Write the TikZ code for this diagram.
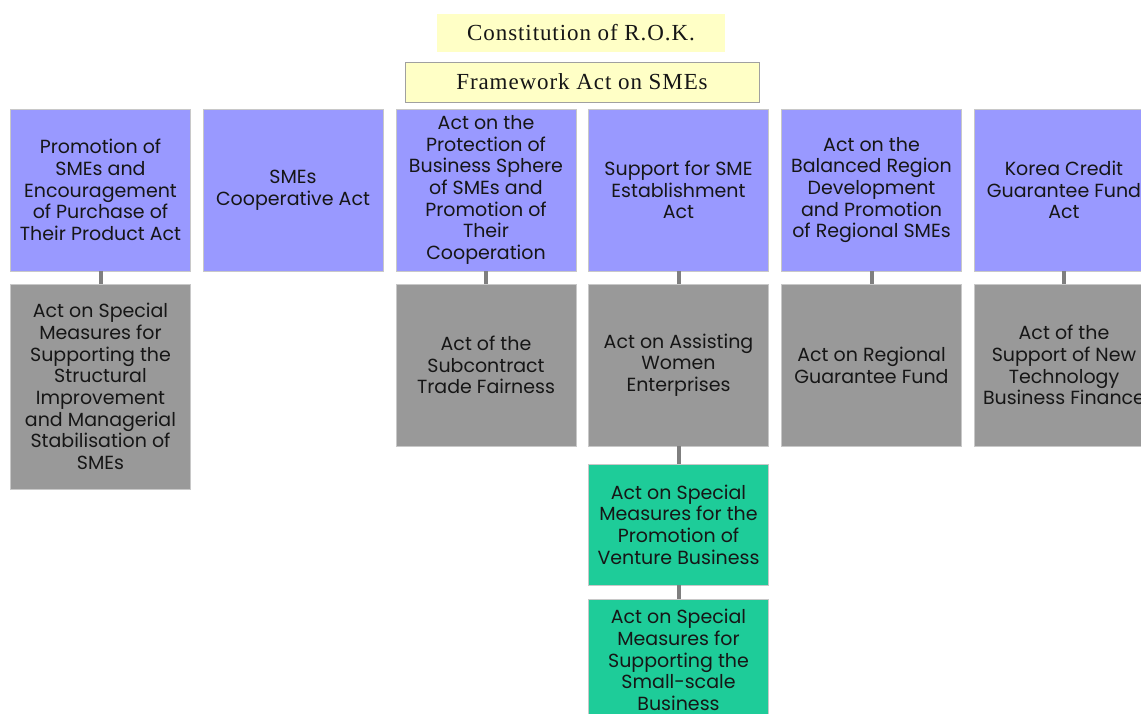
\documentclass[tikz,border=0pt]{standalone}
\usepackage{fontspec}
\setmainfont{Poppins}
\newfontfamily\titlefont[LetterSpace=4]{Liberation Serif}
\definecolor{lawblue}{HTML}{9999FF}
\definecolor{lawgray}{HTML}{999999}
\definecolor{lawgreen}{HTML}{1ECC99}
\definecolor{lawyellow}{HTML}{FFFFC6}
\definecolor{lawtext}{HTML}{161616}
\definecolor{linkgray}{HTML}{7F7F7F}
\definecolor{edgegray}{HTML}{C8C8C8}
\tikzset{
  lawbox/.style={draw=edgegray, line width=0.8pt, minimum width=180pt, inner sep=0pt,
    align=center, text=lawtext, font=\fontsize{19}{21.7}\selectfont},
  mainlaw/.style={lawbox, fill=lawblue, minimum height=162pt},
  sublaw/.style={lawbox, fill=lawgray},
  venture/.style={lawbox, fill=lawgreen, minimum height=121pt},
  toplaw/.style={fill=lawyellow, text=lawtext, inner sep=0pt,
    font=\titlefont\fontsize{23}{26}\selectfont},
  link/.style={draw=linkgray, line width=4pt}
}
\begin{document}
\begin{tikzpicture}[x=1pt,y=-1pt]
\clip (0,0) rectangle (1141,713);
\fill[white] (0,0) rectangle (1141,713);

% constitution and framework act
\node[toplaw, minimum width=288pt, minimum height=38pt] (const) at (581,33) {Constitution of R.O.K.};
\node[toplaw, draw=edgegray!80!black, line width=0.8pt, minimum width=354pt, minimum height=40pt] (frame) at (582,82) {Framework Act on SMEs};

% first row of acts
\node[mainlaw] (a1) at (100.5,190) {Promotion of\\SMEs and\\Encouragement\\of Purchase of\\Their Product Act};
\node[mainlaw] (a2) at (293,190) {SMEs\\Cooperative Act};
\node[mainlaw] (a3) at (486,190) {Act on the\\Protection of\\Business Sphere\\of SMEs and\\Promotion of\\Their\\Cooperation};
\node[mainlaw] (a4) at (678.5,190) {Support for SME\\Establishment\\Act};
\node[mainlaw] (a5) at (871.5,190) {Act on the\\Balanced Region\\Development\\and Promotion\\of Regional SMEs};
\node[mainlaw] (a6) at (1064,190) {Korea Credit\\Guarantee Fund\\Act};

% second row of acts
\node[sublaw, minimum height=205pt] (b1) at (100.5,386.5) {Act on Special\\Measures for\\Supporting the\\Structural\\Improvement\\and Managerial\\Stabilisation of\\SMEs};
\node[sublaw, minimum height=162pt] (b3) at (486,365) {Act of the\\Subcontract\\Trade Fairness};
\node[sublaw, minimum height=162pt] (b4) at (678.5,365) {Act on Assisting\\Women\\Enterprises};
\node[sublaw, minimum height=162pt] (b5) at (871.5,365) {Act on Regional\\Guarantee Fund};
\node[sublaw, minimum height=162pt] (b6) at (1064,365) {Act of the\\Support of New\\Technology\\Business Finance};

% venture business acts
\node[venture] (c1) at (678.5,524.5) {Act on Special\\Measures for the\\Promotion of\\Venture Business};
\node[venture] (c2) at (678.5,660) {Act on Special\\Measures for\\Supporting the\\Small-scale\\Business};

% links
\draw[link] (a1.south) -- (b1.north);
\draw[link] (a3.south) -- (b3.north);
\draw[link] (a4.south) -- (b4.north);
\draw[link] (a5.south) -- (b5.north);
\draw[link] (a6.south) -- (b6.north);
\draw[link] (b4.south) -- (c1.north);
\draw[link] (c1.south) -- (c2.north);
\end{tikzpicture}
\end{document}
